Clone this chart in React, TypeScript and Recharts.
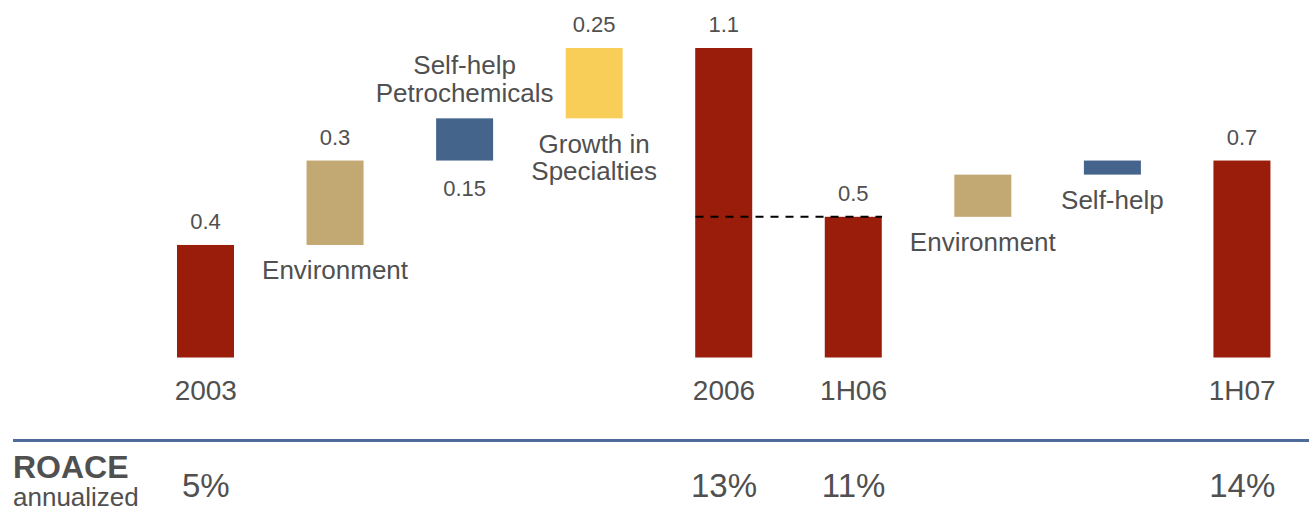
import React from "react";
import { BarChart, Bar, XAxis, YAxis, ReferenceLine } from "recharts";

const steps = [
  "2003",
  "Environment",
  "Self-help Petrochemicals",
  "Growth in Specialties",
  "2006",
  "1H06",
  "Environment (1H)",
  "Self-help (1H)",
  "1H07",
];
const stepLabels = [
  "2003",
  "Environment",
  "Self-help\nPetrochemicals",
  "Growth in\nSpecialties",
  "2006",
  "1H06",
  "Environment",
  "Self-help",
  "1H07",
];
const kinds = ["total", "environment", "selfhelp", "growth", "total", "total", "environment", "selfhelp", "total"];
const bases = [0, 0.4, 0.7, 0.85, 0, 0, 0.5, 0.65, 0];
const deltas = [0.4, 0.3, 0.15, 0.25, 1.1, 0.5, 0.15, 0.05, 0.7];
const valueLabels = ["0.4", "0.3", "0.15", "0.25", "1.1", "0.5", "", "", "0.7"];
const roace = ["5%", "", "", "", "13%", "11%", "", "", "14%"];

const COLORS: Record<string, string> = {
  total: "#9a1c0a",
  environment: "#c2a872",
  selfhelp: "#45648c",
  growth: "#f9ce58",
};
const TEXT = "#505050";
const FONT = "'Liberation Sans', Arial, sans-serif";
const BAR_W = 57;

const data = steps.map((s, i) => ({
  step: s,
  label: stepLabels[i],
  kind: kinds[i],
  base: bases[i],
  value: deltas[i],
  valueLabel: valueLabels[i],
}));

// bar rect plus its value / driver labels
const StepBar = (props: any) => {
  const { x, y, width, height, payload } = props;
  const cx = x + width / 2;
  const bottom = y + height;
  const isTotal = payload.kind === "total";
  const lines: string[] = isTotal ? [] : payload.label.split("\n");
  const driverAbove = payload.step === "Self-help Petrochemicals";
  return (
    <g>
      <rect x={x} y={y} width={width} height={height} fill={COLORS[payload.kind]} />
      {payload.valueLabel && (
        <text
          x={cx}
          y={driverAbove ? bottom + 35 : y - 16}
          textAnchor="middle"
          fontSize={22}
          fill={TEXT}
          fontFamily={FONT}
        >
          {payload.valueLabel}
        </text>
      )}
      {lines.map((ln, k) => (
        <text
          key={k}
          x={cx}
          y={driverAbove ? y - 16 - (lines.length - 1 - k) * 28 : bottom + 34.5 + k * 27.5}
          textAnchor="middle"
          fontSize={26}
          fill={TEXT}
          fontFamily={FONT}
        >
          {ln}
        </text>
      ))}
    </g>
  );
};

const StepTick = (props: any) => {
  const { x, y, index } = props;
  const i = index ?? 0;
  return (
    <g>
      {kinds[i] === "total" && (
        <text x={x} y={y + 42} textAnchor="middle" fontSize={28} fill={TEXT} fontFamily={FONT}>
          {stepLabels[i]}
        </text>
      )}
      {roace[i] && (
        <text x={x} y={y + 139} textAnchor="middle" fontSize={33} fill={TEXT} fontFamily={FONT}>
          {roace[i]}
        </text>
      )}
    </g>
  );
};

const DashedLink = (props: any) => {
  const { x1, y1, x2, y2 } = props;
  return (
    <line
      x1={x1 - BAR_W / 2}
      y1={y1}
      x2={x2 + BAR_W / 2}
      y2={y2}
      stroke="#000"
      strokeWidth={2}
      strokeDasharray="8 7"
    />
  );
};

export default function App() {
  return (
    <div style={{ position: "absolute", left: 0, top: 0, width: 1309, height: 519, background: "#fff" }}>
      <BarChart
        width={1309}
        height={519}
        data={data}
        margin={{ top: 48, right: 2, bottom: 0, left: 141 }}
        barCategoryGap={0}
      >
        <XAxis
          dataKey="step"
          height={161.5}
          axisLine={false}
          tickLine={false}
          tickSize={0}
          tickMargin={0}
          interval={0}
          tick={<StepTick />}
        />
        <YAxis hide domain={[0, 1.1]} />
        <Bar dataKey="base" stackId="w" fill="none" barSize={BAR_W} isAnimationActive={false} />
        <Bar dataKey="value" stackId="w" barSize={BAR_W} shape={<StepBar />} isAnimationActive={false} />
        <ReferenceLine
          segment={[
            { x: "2006", y: 0.5 },
            { x: "1H06", y: 0.5 },
          ]}
          shape={<DashedLink />}
        />
      </BarChart>
      <svg
        width={1309}
        height={519}
        style={{ position: "absolute", left: 0, top: 0, pointerEvents: "none" }}
      >
        <rect x={13} y={439} width={1296} height={3} fill="#4d6c9b" />
        <text x={13} y={478} fontSize={32} fontWeight="bold" fill={TEXT} fontFamily={FONT}>
          ROACE
        </text>
        <text x={13} y={506} fontSize={26} fill={TEXT} fontFamily={FONT}>
          annualized
        </text>
      </svg>
    </div>
  );
}
